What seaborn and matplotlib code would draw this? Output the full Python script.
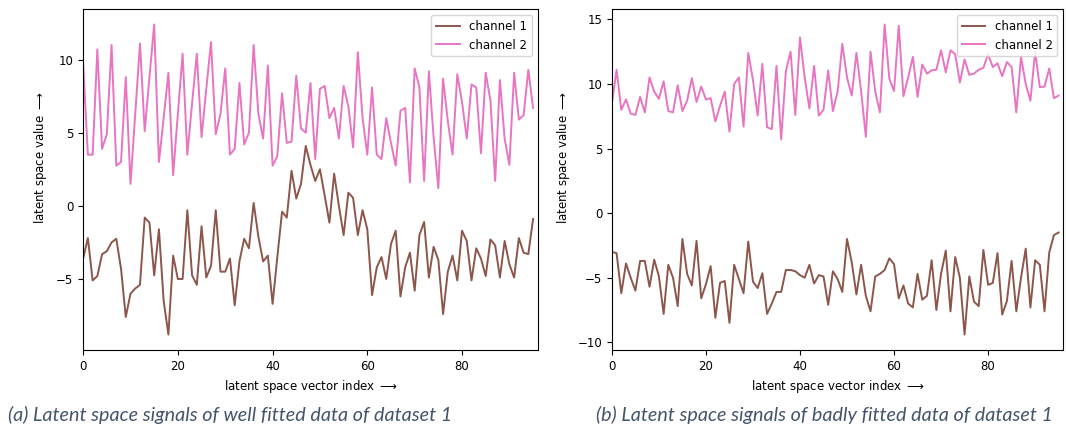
import numpy as np
import pandas as pd
import matplotlib
matplotlib.use("Agg")
import matplotlib.pyplot as plt
import seaborn as sns

# --- values (96 latent vector entries per channel) ---
good_ch1 = [
    -3.6, -2.2, -5.1, -4.8, -3.3, -3.1, -2.5, -2.25, -4.3, -7.6,
    -6.0, -5.65, -5.4, -0.8, -1.15, -4.75, -1.6, -6.5, -8.8, -3.4,
    -5.0, -5.0, -0.3, -4.75, -5.4, -1.4, -4.9, -4.1, -0.3, -4.5,
    -4.5, -3.6, -6.8, -3.8, -2.25, -2.9, 0.2, -2.1, -3.8, -3.4,
    -6.7, -3.5, -0.4, -0.8, 2.4, 0.5, 1.5, 4.1, 2.8, 1.7,
    2.5, 0.7, -1.15, 2.2, 0.0, -2.0, 0.9, 0.55, -2.0, -0.3,
    -1.6, -6.1, -4.2, -3.5, -5.0, -2.6, -1.7, -6.2, -4.2, -3.2,
    -5.8, -2.0, -1.1, -4.9, -2.8, -3.7, -7.4, -4.5, -3.4, -5.1,
    -1.7, -2.4, -5.1, -2.9, -3.6, -4.8, -2.3, -2.7, -4.9, -2.4,
    -4.0, -4.9, -2.2, -3.2, -3.3, -0.9,
]
good_ch2 = [
    9.7, 3.5, 3.5, 10.7, 3.9, 4.9, 11.0, 2.75, 3.0, 8.8,
    1.5, 6.3, 11.1, 5.1, 8.8, 12.4, 3.0, 6.0, 9.1, 2.1,
    6.3, 10.4, 3.5, 7.0, 10.4, 4.7, 8.0, 11.2, 4.9, 6.3,
    9.4, 3.5, 3.9, 8.4, 4.2, 5.0, 11.0, 6.3, 4.6, 9.6,
    2.75, 3.4, 7.7, 4.3, 4.4, 8.9, 5.3, 5.0, 8.4, 3.2,
    8.0, 8.2, 6.0, 6.7, 4.6, 8.2, 6.8, 4.0, 10.5, 6.0,
    3.5, 8.1, 3.5, 3.2, 6.0, 4.3, 2.75, 6.5, 6.7, 1.6,
    9.4, 8.1, 1.7, 9.2, 4.7, 1.2, 8.7, 5.8, 3.5, 9.0,
    7.1, 4.6, 8.3, 8.1, 3.6, 9.1, 7.2, 1.7, 8.6, 4.6,
    2.8, 9.1, 5.9, 6.2, 9.3, 6.7,
]
bad_ch1 = [
    -3.0, -3.1, -6.2, -3.9, -5.0, -6.0, -3.7, -3.7, -5.7, -3.6,
    -4.9, -7.8, -4.0, -5.0, -7.2, -2.0, -4.7, -5.6, -2.15, -6.6,
    -5.5, -4.1, -8.1, -5.4, -5.25, -8.5, -4.0, -5.1, -6.2, -2.2,
    -5.3, -5.8, -4.65, -7.8, -7.0, -6.1, -6.1, -4.4, -4.4, -4.5,
    -4.8, -5.0, -4.0, -5.45, -4.8, -4.9, -7.1, -4.5, -5.1, -6.1,
    -2.0, -3.8, -6.3, -4.0, -6.4, -7.6, -4.9, -4.7, -4.4, -3.5,
    -3.95, -6.6, -5.6, -7.0, -7.3, -4.7, -6.7, -6.4, -3.65, -7.5,
    -4.7, -2.9, -7.6, -3.4, -5.0, -9.4, -4.9, -6.85, -7.2, -2.85,
    -5.55, -5.4, -3.1, -7.85, -6.8, -3.7, -7.6, -5.0, -2.75, -7.3,
    -3.65, -4.0, -7.6, -3.05, -1.7, -1.5,
]
bad_ch2 = [
    8.5, 11.1, 8.0, 8.8, 7.7, 7.6, 9.0, 7.8, 10.5, 9.4,
    8.85, 10.2, 7.9, 7.8, 9.9, 7.9, 8.7, 10.45, 8.6, 9.8,
    8.8, 8.9, 7.1, 8.3, 9.4, 6.3, 10.0, 10.5, 6.7, 12.4,
    10.3, 7.55, 11.55, 6.65, 6.5, 11.4, 5.7, 11.0, 12.5, 7.6,
    13.6, 10.5, 8.1, 11.4, 7.55, 8.0, 11.05, 7.9, 9.4, 13.1,
    10.5, 9.1, 12.4, 9.45, 5.9, 12.5, 9.4, 7.8, 14.6, 10.4,
    9.45, 14.5, 9.05, 10.5, 12.1, 9.0, 11.5, 10.8, 11.05, 11.1,
    12.6, 10.9, 12.6, 12.3, 10.1, 11.9, 10.7, 10.8, 11.1, 11.25,
    12.3, 11.3, 11.6, 10.6, 11.7, 11.3, 7.8, 12.1, 10.0, 8.7,
    12.5, 9.75, 9.8, 11.2, 8.9, 9.1,
]

channel_names = ["channel 1", "channel 2"]
channel_colors = {"channel 1": "#8c564b", "channel 2": "#e874c2"}
captions = [
    "(a) Latent space signals of well fitted data of dataset 1",
    "(b) Latent space signals of badly fitted data of dataset 1",
]


def to_frame(ch1, ch2):
    idx = np.arange(len(ch1))
    return pd.DataFrame({
        "index": np.concatenate([idx, idx]),
        "value": np.concatenate([ch1, ch2]),
        "channel": [channel_names[0]] * len(ch1) + [channel_names[1]] * len(ch2),
    })


def plot_panel(ax, df, label_x):
    sns.lineplot(data=df, x="index", y="value", hue="channel",
                 palette=channel_colors, linewidth=1.4, ax=ax)
    ax.set_xlim(0, 96)
    ax.set_xlabel(r"latent space vector index $\longrightarrow$", fontsize=8.5)
    ax.set_ylabel(r"latent space value $\longrightarrow$", fontsize=8.5)
    ax.tick_params(labelsize=8.5)
    ax.legend(loc="upper right", fontsize=8.5)
    # label sits a bit above the axes centre in the reference
    ax.yaxis.set_label_coords(label_x, 0.565)


fig = plt.figure(figsize=(10.66, 4.29), dpi=100)
ax1 = fig.add_axes([0.078, 0.184, 0.4265, 0.795])
ax2 = fig.add_axes([0.574, 0.184, 0.4235, 0.795])

plot_panel(ax1, to_frame(good_ch1, good_ch2), -0.075)
plot_panel(ax2, to_frame(bad_ch1, bad_ch2), -0.088)

cap_style = dict(fontsize=14.2, style="italic", color="#44546a",
                 family=["Lato", "DejaVu Sans"], va="center")
fig.text(8 / 1066, 1 - 415 / 429, captions[0], **cap_style)
fig.text(596 / 1066, 1 - 415 / 429, captions[1], **cap_style)

fig.savefig("out.png", dpi=100)
